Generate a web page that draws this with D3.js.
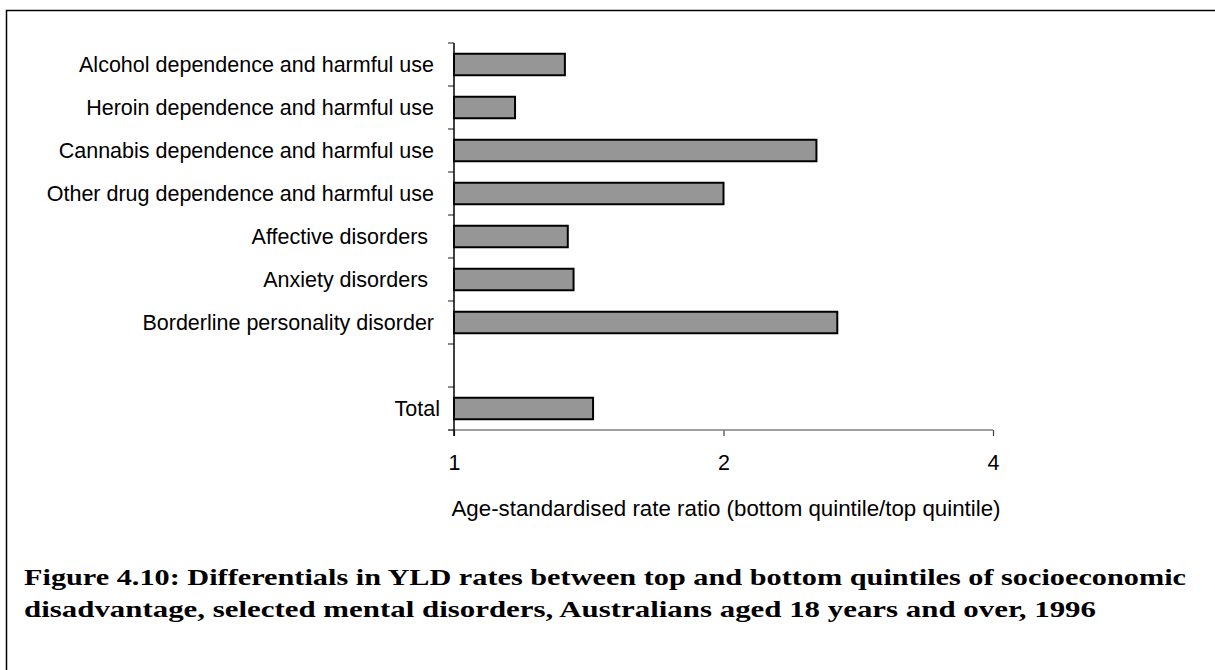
<!DOCTYPE html>
<html>
<head>
<meta charset="utf-8">
<script src="https://cdn.jsdelivr.net/npm/d3@7"></script>
<style>
  html, body { margin: 0; padding: 0; background: #fff; }
  svg { display: block; }
  text { white-space: pre; }
</style>
</head>
<body>
<svg id="chart" width="1215" height="670"></svg>
<script>
// ---- data ----
const categories = [
  "Alcohol dependence and harmful use\u00A0",
  "Heroin dependence and harmful use\u00A0",
  "Cannabis dependence and harmful use\u00A0",
  "Other drug dependence and harmful use\u00A0",
  "Affective disorders\u00A0\u00A0",
  "Anxiety disorders\u00A0\u00A0",
  "Borderline personality disorder\u00A0",
  "",
  "Total"
];
const rateRatios = [1.33, 1.17, 2.54, 2.00, 1.34, 1.36, 2.68, null, 1.43];
const tickValues = [1, 2, 4];
const xTitle = "Age-standardised rate ratio (bottom quintile/top quintile)";
const captionLines = [
  "Figure 4.10: Differentials in YLD rates between top and bottom quintiles of socioeconomic",
  "disadvantage, selected mental disorders, Australians aged 18 years and over, 1996"
];

// ---- layout ----
const svg = d3.select("#chart");
const plot = { left: 454, right: 993, top: 43, bottom: 430 };

const x = d3.scaleLog().base(2).domain([1, 4]).range([plot.left, plot.right]);
const y = d3.scaleBand()
  .domain(d3.range(categories.length))
  .range([plot.top, plot.bottom])
  .paddingInner(0.5)
  .paddingOuter(0.25);

// frame
svg.append("rect")
  .attr("x", 6.5).attr("y", 10.5)
  .attr("width", 1300).attr("height", 800)
  .attr("fill", "none").attr("stroke", "#000").attr("stroke-width", 1.5);

// bars
svg.append("g").selectAll("rect")
  .data(rateRatios.map((v, i) => ({ v, i })).filter(d => d.v != null))
  .join("rect")
  .attr("x", x(1))
  .attr("y", d => y(d.i))
  .attr("width", d => x(d.v) - x(1))
  .attr("height", y.bandwidth())
  .attr("fill", "#969696")
  .attr("stroke", "#000")
  .attr("stroke-width", 2);

// x axis
const xAxis = d3.axisBottom(x)
  .tickValues(tickValues)
  .tickFormat(d3.format("d"))
  .tickSize(6)
  .tickPadding(19);
const gx = svg.append("g")
  .attr("transform", `translate(0,${plot.bottom})`)
  .call(xAxis);
gx.select(".domain").remove();
gx.append("line")
  .attr("x1", plot.left - 6).attr("x2", plot.right)
  .attr("y1", 0).attr("y2", 0)
  .attr("stroke", "#808080").attr("stroke-width", 1.5);
gx.selectAll(".tick line").attr("stroke", "#404040").attr("stroke-width", 1.2);
gx.selectAll(".tick text")
  .attr("font-family", "Liberation Sans, Arial, sans-serif")
  .attr("font-size", 21.5).attr("fill", "#000");

// y axis (tick marks at band boundaries)
const boundaries = d3.range(categories.length + 1).map(i => plot.top + i * y.step());
svg.append("g").selectAll("line")
  .data(boundaries)
  .join("line")
  .attr("x1", plot.left - 6).attr("x2", plot.left)
  .attr("y1", d => d).attr("y2", d => d)
  .attr("stroke", "#404040").attr("stroke-width", 1.2);
svg.append("line")
  .attr("x1", plot.left).attr("x2", plot.left)
  .attr("y1", plot.top).attr("y2", plot.bottom + 6)
  .attr("stroke", "#000").attr("stroke-width", 1.5);

// category labels
svg.append("g").selectAll("text")
  .data(categories.map((c, i) => ({ c, i })).filter(d => d.c !== ""))
  .join("text")
  .attr("x", 440)
  .attr("y", d => y(d.i) + y.bandwidth() / 2)
  .attr("dy", "0.36em")
  .attr("text-anchor", "end")
  .attr("font-family", "Liberation Sans, Arial, sans-serif")
  .attr("font-size", 21.5)
  .attr("fill", "#000")
  .text(d => d.c);

// x title
svg.append("text")
  .attr("x", 726).attr("y", 516)
  .attr("text-anchor", "middle")
  .attr("font-family", "Liberation Sans, Arial, sans-serif")
  .attr("font-size", 22.3)
  .attr("fill", "#000")
  .text(xTitle);

// caption
const capWidths = [1162, 1072];
svg.append("g").selectAll("text")
  .data(captionLines)
  .join("text")
  .attr("x", 24)
  .attr("y", (d, i) => 585 + i * 32)
  .attr("font-family", "Liberation Serif, serif")
  .attr("font-weight", "bold")
  .attr("font-size", 23)
  .attr("fill", "#000")
  .attr("textLength", (d, i) => capWidths[i])
  .attr("lengthAdjust", "spacingAndGlyphs")
  .text(d => d);
</script>
</body>
</html>
